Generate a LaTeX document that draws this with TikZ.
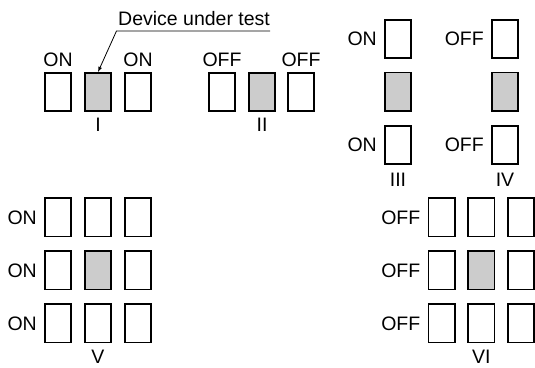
\documentclass[tikz,border=0pt]{standalone}
\usepackage{fontspec}
\setmainfont{Liberation Sans}
\usetikzlibrary{positioning,arrows}

\begin{document}
\begin{tikzpicture}[
     x=1pt, y=-1pt,
     % define styles
     cell/.style={
         draw,
         line width=1.8pt,
         minimum width=26.2pt,
         minimum height=38.2pt,
         inner sep=0pt
     },
     dut/.style={
         cell,
         fill=black!20
     },
     tag/.style={
         inner sep=0pt,
         font=\fontsize{19.5}{22}\selectfont
     },
     >=latex
]
\useasboundingbox (0,0) rectangle (535,367);

% arrangement I
\node[cell] (i-1) at (58,92) {};
\node[dut]  (i-2) at (98,92) {};
\node[cell] (i-3) at (138,92) {};
\node[tag, above=5pt of i-1] {ON};
\node[tag, above=5pt of i-3] {ON};
\node[tag, below=6pt of i-2] {I};

% arrangement II
\node[cell] (ii-1) at (222,92) {};
\node[dut]  (ii-2) at (262,92) {};
\node[cell] (ii-3) at (301,92) {};
\node[tag, above=5pt of ii-1] {OFF};
\node[tag, above=5pt of ii-3] {OFF};
\node[tag, below=6pt of ii-2] {II};

% arrangement III
\node[cell] (iii-1) at (398,39) {};
\node[dut]  (iii-2) at (398,91.5) {};
\node[cell] (iii-3) at (398,144.7) {};
\node[tag, left=7pt of iii-1] {ON};
\node[tag, left=7pt of iii-3] {ON};
\node[tag, below=8pt of iii-3] {III};

% arrangement IV
\node[cell] (iv-1) at (505,39) {};
\node[dut]  (iv-2) at (505,91.5) {};
\node[cell] (iv-3) at (505,144.7) {};
\node[tag, left=7pt of iv-1] {OFF};
\node[tag, left=7pt of iv-3] {OFF};
\node[tag, below=8pt of iv-3] {IV};

% arrangements V and VI: 3x3 grids
\foreach \r/\y in {1/217.3, 2/270.3, 3/323.3} {
    \foreach \c/\xa/\xb in {1/58/441.5, 2/98/481.3, 3/138/521} {
        \ifnum\r\c=22 \def\kind{dut}\else\def\kind{cell}\fi
        \node[\kind] (v-\r-\c) at (\xa,\y) {};
        \node[\kind] (vi-\r-\c) at (\xb,\y) {};
    }
    \node[tag, left=7pt of v-\r-1] {ON};
    \node[tag, left=7pt of vi-\r-1] {OFF};
}
\node[tag, below=7pt of v-3-2] {V};
\node[tag, below=7pt of vi-3-2] {VI};

% pointer to the device under test
\node[tag, anchor=base west] (dutlabel) at (118,25) {Device under test};
\coordinate (kink) at ([xshift=-1.5pt, yshift=-6pt]dutlabel.base west);
\draw[->, line width=0.8pt] ([yshift=-6pt]dutlabel.base east) -- (kink) -- (i-2.north);
\end{tikzpicture}
\end{document}
